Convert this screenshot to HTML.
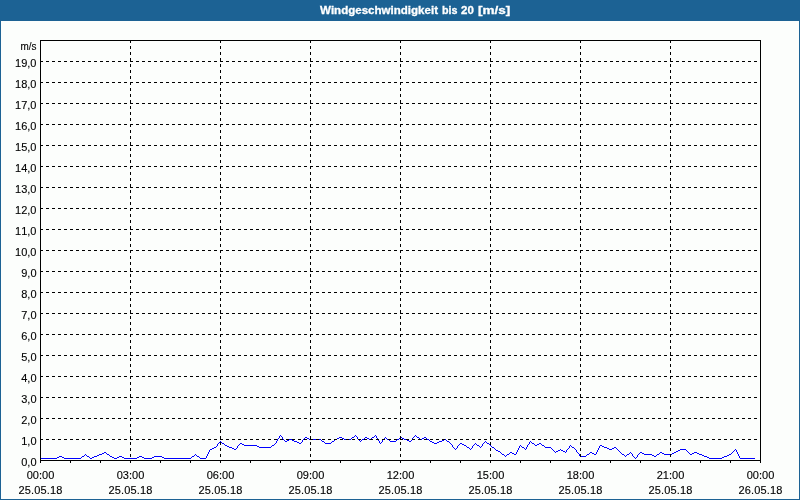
<!DOCTYPE html>
<html><head><meta charset="utf-8"><title>Windgeschwindigkeit bis 20 [m/s]</title>
<style>html,body{margin:0;padding:0;background:#fcfefc;overflow:hidden}svg{display:block;will-change:transform}text{font-family:"Liberation Sans",sans-serif;font-size:11px;fill:#000;font-kerning:none;stroke:#000;stroke-width:.12px}.t{font-weight:bold;fill:#fff;stroke:#fff;stroke-width:.3px}</style></head><body>
<svg width="800" height="500" viewBox="0 0 800 500">
<rect x="0" y="0" width="800" height="500" fill="#1c6294"/>
<rect x="1" y="21" width="798" height="478" fill="#fcfefc"/>
<text class="t" y="14"><tspan x="320" textLength="118" lengthAdjust="spacingAndGlyphs">Windgeschwindigkeit</tspan> <tspan x="442" textLength="15.5" lengthAdjust="spacingAndGlyphs">bis</tspan> <tspan x="461" textLength="12.8" lengthAdjust="spacingAndGlyphs">20</tspan> <tspan x="478" textLength="32.3" lengthAdjust="spacingAndGlyphs">[m/s]</tspan></text>
<path shape-rendering="crispEdges" fill="#0000ff" d="M280 435h1v1h-1zM355 435h1v1h-1zM375 435h1v1h-1zM415 435h1v1h-1zM279 436h1v1h-1zM281 436h1v1h-1zM354 436h1v1h-1zM356 436h1v1h-1zM374 436h1v1h-1zM376 436h1v1h-1zM414 436h1v1h-1zM416 436h1v1h-1zM279 437h1v1h-1zM282 437h1v1h-1zM305 437h2v1h-2zM339 437h3v1h-3zM352 437h2v1h-2zM357 437h1v1h-1zM365 437h2v1h-2zM372 437h2v1h-2zM376 437h1v1h-1zM385 437h1v1h-1zM400 437h2v1h-2zM413 437h1v1h-1zM417 437h2v1h-2zM424 437h2v1h-2zM278 438h1v1h-1zM282 438h1v1h-1zM304 438h1v1h-1zM307 438h2v1h-2zM337 438h2v1h-2zM342 438h2v1h-2zM351 438h1v1h-1zM357 438h1v1h-1zM364 438h1v1h-1zM367 438h2v1h-2zM371 438h1v1h-1zM377 438h1v1h-1zM384 438h1v1h-1zM386 438h1v1h-1zM399 438h1v1h-1zM402 438h2v1h-2zM412 438h1v1h-1zM419 438h1v1h-1zM422 438h2v1h-2zM426 438h1v1h-1zM277 439h1v1h-1zM283 439h1v1h-1zM289 439h3v1h-3zM303 439h1v1h-1zM309 439h12v1h-12zM335 439h2v1h-2zM344 439h7v1h-7zM358 439h1v1h-1zM362 439h2v1h-2zM369 439h2v1h-2zM377 439h1v1h-1zM383 439h1v1h-1zM387 439h2v1h-2zM397 439h2v1h-2zM404 439h3v1h-3zM412 439h1v1h-1zM420 439h2v1h-2zM427 439h2v1h-2zM444 439h2v1h-2zM277 440h1v1h-1zM284 440h1v1h-1zM287 440h2v1h-2zM292 440h2v1h-2zM302 440h1v1h-1zM321 440h1v1h-1zM334 440h1v1h-1zM359 440h1v1h-1zM361 440h1v1h-1zM378 440h1v1h-1zM382 440h1v1h-1zM389 440h1v1h-1zM396 440h1v1h-1zM407 440h2v1h-2zM411 440h1v1h-1zM429 440h1v1h-1zM442 440h2v1h-2zM446 440h1v1h-1zM220 441h1v1h-1zM276 441h1v1h-1zM285 441h2v1h-2zM294 441h3v1h-3zM302 441h1v1h-1zM322 441h2v1h-2zM332 441h2v1h-2zM360 441h1v1h-1zM379 441h1v1h-1zM382 441h1v1h-1zM390 441h6v1h-6zM409 441h2v1h-2zM430 441h2v1h-2zM439 441h3v1h-3zM447 441h2v1h-2zM485 441h1v1h-1zM530 441h1v1h-1zM219 442h1v1h-1zM221 442h1v1h-1zM276 442h1v1h-1zM297 442h2v1h-2zM301 442h1v1h-1zM324 442h1v1h-1zM331 442h1v1h-1zM379 442h1v1h-1zM381 442h1v1h-1zM432 442h2v1h-2zM437 442h2v1h-2zM449 442h1v1h-1zM484 442h1v1h-1zM486 442h1v1h-1zM529 442h1v1h-1zM531 442h1v1h-1zM218 443h1v1h-1zM222 443h2v1h-2zM240 443h2v1h-2zM275 443h1v1h-1zM299 443h2v1h-2zM325 443h6v1h-6zM380 443h1v1h-1zM434 443h3v1h-3zM450 443h1v1h-1zM460 443h2v1h-2zM475 443h1v1h-1zM483 443h1v1h-1zM487 443h2v1h-2zM529 443h1v1h-1zM532 443h2v1h-2zM539 443h2v1h-2zM217 444h1v1h-1zM224 444h1v1h-1zM239 444h1v1h-1zM242 444h2v1h-2zM274 444h1v1h-1zM451 444h1v1h-1zM459 444h1v1h-1zM462 444h2v1h-2zM474 444h1v1h-1zM476 444h1v1h-1zM482 444h1v1h-1zM489 444h1v1h-1zM528 444h1v1h-1zM534 444h1v1h-1zM537 444h2v1h-2zM541 444h1v1h-1zM217 445h1v1h-1zM225 445h2v1h-2zM238 445h1v1h-1zM244 445h13v1h-13zM272 445h2v1h-2zM452 445h1v1h-1zM458 445h1v1h-1zM464 445h2v1h-2zM473 445h1v1h-1zM477 445h2v1h-2zM482 445h1v1h-1zM490 445h1v1h-1zM520 445h1v1h-1zM527 445h1v1h-1zM535 445h2v1h-2zM542 445h2v1h-2zM570 445h1v1h-1zM600 445h2v1h-2zM216 446h1v1h-1zM227 446h2v1h-2zM237 446h1v1h-1zM257 446h2v1h-2zM271 446h1v1h-1zM452 446h1v1h-1zM457 446h1v1h-1zM466 446h1v1h-1zM472 446h1v1h-1zM479 446h1v1h-1zM481 446h1v1h-1zM491 446h1v1h-1zM519 446h1v1h-1zM521 446h1v1h-1zM527 446h1v1h-1zM544 446h1v1h-1zM569 446h1v1h-1zM571 446h1v1h-1zM599 446h1v1h-1zM602 446h2v1h-2zM214 447h2v1h-2zM229 447h3v1h-3zM237 447h1v1h-1zM259 447h12v1h-12zM453 447h1v1h-1zM457 447h1v1h-1zM467 447h2v1h-2zM472 447h1v1h-1zM480 447h1v1h-1zM492 447h2v1h-2zM519 447h1v1h-1zM522 447h2v1h-2zM526 447h1v1h-1zM545 447h6v1h-6zM569 447h1v1h-1zM572 447h2v1h-2zM599 447h1v1h-1zM604 447h3v1h-3zM614 447h2v1h-2zM212 448h2v1h-2zM232 448h2v1h-2zM236 448h1v1h-1zM454 448h1v1h-1zM456 448h1v1h-1zM469 448h1v1h-1zM471 448h1v1h-1zM494 448h1v1h-1zM518 448h1v1h-1zM524 448h1v1h-1zM526 448h1v1h-1zM551 448h1v1h-1zM568 448h1v1h-1zM574 448h1v1h-1zM598 448h1v1h-1zM607 448h2v1h-2zM612 448h2v1h-2zM616 448h1v1h-1zM210 449h2v1h-2zM234 449h2v1h-2zM455 449h1v1h-1zM470 449h1v1h-1zM495 449h1v1h-1zM518 449h1v1h-1zM525 449h1v1h-1zM552 449h1v1h-1zM560 449h1v1h-1zM567 449h1v1h-1zM575 449h1v1h-1zM598 449h1v1h-1zM609 449h3v1h-3zM617 449h1v1h-1zM680 449h6v1h-6zM735 449h1v1h-1zM209 450h1v1h-1zM496 450h2v1h-2zM517 450h1v1h-1zM553 450h1v1h-1zM558 450h2v1h-2zM561 450h2v1h-2zM566 450h1v1h-1zM576 450h1v1h-1zM597 450h1v1h-1zM618 450h1v1h-1zM678 450h2v1h-2zM686 450h1v1h-1zM734 450h1v1h-1zM736 450h1v1h-1zM209 451h1v1h-1zM498 451h2v1h-2zM517 451h1v1h-1zM554 451h1v1h-1zM556 451h2v1h-2zM563 451h2v1h-2zM566 451h1v1h-1zM576 451h1v1h-1zM597 451h1v1h-1zM619 451h1v1h-1zM676 451h2v1h-2zM687 451h1v1h-1zM733 451h1v1h-1zM736 451h1v1h-1zM104 452h2v1h-2zM208 452h1v1h-1zM500 452h1v1h-1zM510 452h2v1h-2zM516 452h1v1h-1zM555 452h1v1h-1zM565 452h1v1h-1zM577 452h1v1h-1zM590 452h2v1h-2zM596 452h1v1h-1zM620 452h1v1h-1zM630 452h1v1h-1zM640 452h2v1h-2zM660 452h2v1h-2zM674 452h2v1h-2zM688 452h1v1h-1zM694 452h3v1h-3zM732 452h1v1h-1zM737 452h1v1h-1zM102 453h2v1h-2zM106 453h1v1h-1zM208 453h1v1h-1zM501 453h1v1h-1zM509 453h1v1h-1zM512 453h2v1h-2zM516 453h1v1h-1zM578 453h1v1h-1zM589 453h1v1h-1zM592 453h2v1h-2zM596 453h1v1h-1zM621 453h1v1h-1zM629 453h1v1h-1zM631 453h1v1h-1zM639 453h1v1h-1zM642 453h2v1h-2zM659 453h1v1h-1zM662 453h2v1h-2zM672 453h2v1h-2zM689 453h1v1h-1zM692 453h2v1h-2zM697 453h2v1h-2zM731 453h1v1h-1zM737 453h1v1h-1zM85 454h1v1h-1zM99 454h3v1h-3zM107 454h2v1h-2zM195 454h1v1h-1zM207 454h1v1h-1zM502 454h2v1h-2zM507 454h2v1h-2zM514 454h2v1h-2zM579 454h1v1h-1zM587 454h2v1h-2zM594 454h2v1h-2zM622 454h2v1h-2zM627 454h2v1h-2zM632 454h1v1h-1zM638 454h1v1h-1zM644 454h8v1h-8zM657 454h2v1h-2zM664 454h8v1h-8zM690 454h2v1h-2zM699 454h3v1h-3zM729 454h2v1h-2zM738 454h1v1h-1zM84 455h1v1h-1zM86 455h1v1h-1zM97 455h2v1h-2zM109 455h1v1h-1zM194 455h1v1h-1zM196 455h1v1h-1zM207 455h1v1h-1zM504 455h1v1h-1zM506 455h1v1h-1zM579 455h1v1h-1zM586 455h1v1h-1zM624 455h1v1h-1zM626 455h1v1h-1zM632 455h1v1h-1zM637 455h1v1h-1zM652 455h2v1h-2zM656 455h1v1h-1zM702 455h2v1h-2zM727 455h2v1h-2zM738 455h1v1h-1zM59 456h3v1h-3zM82 456h2v1h-2zM87 456h2v1h-2zM94 456h3v1h-3zM110 456h2v1h-2zM119 456h3v1h-3zM139 456h3v1h-3zM154 456h8v1h-8zM192 456h2v1h-2zM197 456h2v1h-2zM206 456h1v1h-1zM505 456h1v1h-1zM580 456h6v1h-6zM625 456h1v1h-1zM633 456h1v1h-1zM637 456h1v1h-1zM654 456h2v1h-2zM704 456h3v1h-3zM724 456h3v1h-3zM739 456h1v1h-1zM57 457h2v1h-2zM62 457h2v1h-2zM81 457h1v1h-1zM89 457h1v1h-1zM92 457h2v1h-2zM112 457h2v1h-2zM117 457h2v1h-2zM122 457h2v1h-2zM137 457h2v1h-2zM142 457h2v1h-2zM152 457h2v1h-2zM162 457h2v1h-2zM191 457h1v1h-1zM199 457h1v1h-1zM206 457h1v1h-1zM634 457h1v1h-1zM636 457h1v1h-1zM707 457h2v1h-2zM722 457h2v1h-2zM739 457h1v1h-1zM40 458h17v1h-17zM64 458h17v1h-17zM90 458h2v1h-2zM114 458h3v1h-3zM124 458h13v1h-13zM144 458h8v1h-8zM164 458h27v1h-27zM200 458h6v1h-6zM635 458h1v1h-1zM709 458h13v1h-13zM740 458h15v1h-15z"/>
<g shape-rendering="crispEdges" stroke="#000" stroke-width="1" fill="none">
<g stroke-dasharray="3 3">
<line x1="40" y1="439.5" x2="760" y2="439.5"/>
<line x1="40" y1="418.5" x2="760" y2="418.5"/>
<line x1="40" y1="397.5" x2="760" y2="397.5"/>
<line x1="40" y1="376.5" x2="760" y2="376.5"/>
<line x1="40" y1="355.5" x2="760" y2="355.5"/>
<line x1="40" y1="334.5" x2="760" y2="334.5"/>
<line x1="40" y1="313.5" x2="760" y2="313.5"/>
<line x1="40" y1="292.5" x2="760" y2="292.5"/>
<line x1="40" y1="271.5" x2="760" y2="271.5"/>
<line x1="40" y1="250.5" x2="760" y2="250.5"/>
<line x1="40" y1="229.5" x2="760" y2="229.5"/>
<line x1="40" y1="208.5" x2="760" y2="208.5"/>
<line x1="40" y1="187.5" x2="760" y2="187.5"/>
<line x1="40" y1="166.5" x2="760" y2="166.5"/>
<line x1="40" y1="145.5" x2="760" y2="145.5"/>
<line x1="40" y1="124.5" x2="760" y2="124.5"/>
<line x1="40" y1="103.5" x2="760" y2="103.5"/>
<line x1="40" y1="82.5" x2="760" y2="82.5"/>
<line x1="40" y1="61.5" x2="760" y2="61.5"/>
<line x1="130.5" y1="40" x2="130.5" y2="460"/>
<line x1="220.5" y1="40" x2="220.5" y2="460"/>
<line x1="310.5" y1="40" x2="310.5" y2="460"/>
<line x1="400.5" y1="40" x2="400.5" y2="460"/>
<line x1="490.5" y1="40" x2="490.5" y2="460"/>
<line x1="580.5" y1="40" x2="580.5" y2="460"/>
<line x1="670.5" y1="40" x2="670.5" y2="460"/>
</g>
<rect x="40.5" y="40.5" width="720" height="420"/>
<line x1="40.5" y1="461" x2="40.5" y2="463"/>
<line x1="70.5" y1="461" x2="70.5" y2="463"/>
<line x1="100.5" y1="461" x2="100.5" y2="463"/>
<line x1="130.5" y1="461" x2="130.5" y2="463"/>
<line x1="160.5" y1="461" x2="160.5" y2="463"/>
<line x1="190.5" y1="461" x2="190.5" y2="463"/>
<line x1="220.5" y1="461" x2="220.5" y2="463"/>
<line x1="250.5" y1="461" x2="250.5" y2="463"/>
<line x1="280.5" y1="461" x2="280.5" y2="463"/>
<line x1="310.5" y1="461" x2="310.5" y2="463"/>
<line x1="340.5" y1="461" x2="340.5" y2="463"/>
<line x1="370.5" y1="461" x2="370.5" y2="463"/>
<line x1="400.5" y1="461" x2="400.5" y2="463"/>
<line x1="430.5" y1="461" x2="430.5" y2="463"/>
<line x1="460.5" y1="461" x2="460.5" y2="463"/>
<line x1="490.5" y1="461" x2="490.5" y2="463"/>
<line x1="520.5" y1="461" x2="520.5" y2="463"/>
<line x1="550.5" y1="461" x2="550.5" y2="463"/>
<line x1="580.5" y1="461" x2="580.5" y2="463"/>
<line x1="610.5" y1="461" x2="610.5" y2="463"/>
<line x1="640.5" y1="461" x2="640.5" y2="463"/>
<line x1="670.5" y1="461" x2="670.5" y2="463"/>
<line x1="700.5" y1="461" x2="700.5" y2="463"/>
<line x1="730.5" y1="461" x2="730.5" y2="463"/>
<line x1="760.5" y1="461" x2="760.5" y2="463"/>
</g>
<g>
<g text-anchor="end">
<text x="36.5" y="50" textLength="16" lengthAdjust="spacingAndGlyphs">m/s</text>
<text x="36.5" y="466">0,0</text>
<text x="36.5" y="445">1,0</text>
<text x="36.5" y="424">2,0</text>
<text x="36.5" y="403">3,0</text>
<text x="36.5" y="382">4,0</text>
<text x="36.5" y="361">5,0</text>
<text x="36.5" y="340">6,0</text>
<text x="36.5" y="319">7,0</text>
<text x="36.5" y="298">8,0</text>
<text x="36.5" y="277">9,0</text>
<text x="36.5" y="256">10,0</text>
<text x="36.5" y="235">11,0</text>
<text x="36.5" y="214">12,0</text>
<text x="36.5" y="193">13,0</text>
<text x="36.5" y="172">14,0</text>
<text x="36.5" y="151">15,0</text>
<text x="36.5" y="130">16,0</text>
<text x="36.5" y="109">17,0</text>
<text x="36.5" y="88">18,0</text>
<text x="36.5" y="67">19,0</text>
</g><g text-anchor="middle">
<text x="40.5" y="479">00:00</text><text x="40.5" y="494" letter-spacing="0.15">25.05.18</text>
<text x="130.5" y="479">03:00</text><text x="130.5" y="494" letter-spacing="0.15">25.05.18</text>
<text x="220.5" y="479">06:00</text><text x="220.5" y="494" letter-spacing="0.15">25.05.18</text>
<text x="310.5" y="479">09:00</text><text x="310.5" y="494" letter-spacing="0.15">25.05.18</text>
<text x="400.5" y="479">12:00</text><text x="400.5" y="494" letter-spacing="0.15">25.05.18</text>
<text x="490.5" y="479">15:00</text><text x="490.5" y="494" letter-spacing="0.15">25.05.18</text>
<text x="580.5" y="479">18:00</text><text x="580.5" y="494" letter-spacing="0.15">25.05.18</text>
<text x="670.5" y="479">21:00</text><text x="670.5" y="494" letter-spacing="0.15">25.05.18</text>
<text x="760.5" y="479">00:00</text><text x="760.5" y="494" letter-spacing="0.15">26.05.18</text>
</g></g>
</svg></body></html>
